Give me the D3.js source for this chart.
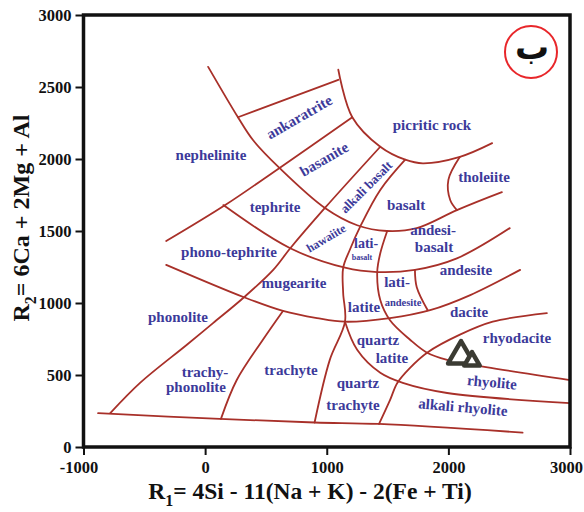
<!DOCTYPE html>
<html lang="en">
<head>
    <meta charset="UTF-8">
    <title>R1-R2 diagram</title>
    <script src="https://cdn.jsdelivr.net/npm/d3@7"></script>
    <style>
        body { margin: 0; background: #fff; }
    </style>
</head>
<body>
    <svg class="root"></svg>
<script>
    // boundary lines, in R1 / R2 units
    const bottomLine = [[-880, 235], [120, 195], [900, 170], [1430, 160], [2610, 100]];
    const lineA = [[-780, 235], [-535, 445], [-150, 710], [65, 860], [320, 1040], [560, 1230], [700, 1380], [985, 1660], [1440, 2085]];
    const lineB = [[25, 2640], [270, 2290], [395, 2130], [615, 1935], [985, 1660], [1250, 1540], [1495, 1500], [1740, 1520], [2070, 1645], [2440, 1770]];
    const picritic = [[1095, 2620], [1210, 2290], [1440, 2085], [1645, 1995], [1790, 1970], [2095, 2015], [2360, 2110]];
    const ankaratriteTop = [[270, 2290], [1095, 2550]];
    const lineD = [[-320, 1430], [165, 1680], [615, 1940], [1210, 2290]];
    const lineE = [[150, 1680], [700, 1380], [1150, 1245], [1415, 1215], [1725, 1230], [2070, 1310], [2505, 1520]];
    const lineF = [[-320, 1265], [320, 1040], [640, 945], [920, 895], [1150, 870], [1520, 895], [1850, 950], [2180, 1055], [2590, 1230]];
    const lineG = [[1430, 160], [1520, 325], [1580, 445], [1685, 550], [1825, 655], [2095, 780], [2365, 870], [2810, 930]];
    const lineH = [[1495, 1495], [1440, 1345], [1415, 1215], [1440, 1020], [1520, 880], [1685, 745], [1825, 655], [1990, 605], [2310, 555], [3000, 465]];
    const lineI = [[1645, 1995], [1440, 1785], [1275, 1530], [1190, 1370], [1135, 1245], [1135, 1070], [1150, 870], [1025, 605], [900, 170]];
    const lineJ = [[1725, 1230], [1740, 1110], [1830, 950]];
    const lineK = [[1150, 870], [1250, 675], [1440, 515], [1625, 445], [1990, 375], [3000, 305]];
    const lineL = [[640, 945], [475, 745], [260, 465], [130, 195]];
    const tholeiite = [[2095, 2015], [2000, 1855], [2015, 1715], [2070, 1645]];

    const boundaries = [bottomLine, lineA, lineB, picritic, ankaratriteTop, lineD, lineE,
                        lineF, lineG, lineH, lineI, lineJ, lineK, lineL, tholeiite];

    // field names and where they sit
    const labelText = ["ankaratrite", "nephelinite", "basanite", "picritic rock", "tholeiite",
        "alkali basalt", "basalt", "andesi-", "basalt", "tephrite", "phono-tephrite", "hawaiite",
        "lati-", "basalt", "mugearite", "phonolite", "latite", "lati-", "andesite", "andesite",
        "dacite", "rhyodacite", "quartz", "latite", "rhyolite", "alkali rhyolite", "quartz",
        "trachyte", "trachyte", "trachy-", "phonolite"];
    const labelR1 = [772, 48, 977, 1865, 2293, 1323, 1652, 1874, 1882, 575, 196, 994, 1323, 1290,
        731, -223, 1306, 1578, 1627, 2145, 2170, 2564, 1421, 1536, 2359, 2120, 1257, 1216, 706, -1, -75];
    const labelR2 = [2292, 2028, 2000, 2236, 1875, 1806, 1681, 1507, 1389, 1667, 1354, 1451, 1417, 1319,
        1139, 903, 972, 1146, 1007, 1229, 937, 757, 743, 618, 451, 278, 444, 292, 535, 521, 417];

    // sample points (plotted as triangles)
    const sampleR1 = [2104, 2194];
    const sampleR2 = [632, 597];

    const xTicks = [-1000, 0, 1000, 2000, 3000];
    const yTicks = [0, 500, 1000, 1500, 2000, 2500, 3000];

    const width = 584, height = 512;
    const serif = "'Liberation Serif', 'Times New Roman', serif";
    const lineColor = "#a83029";
    const textColor = "#3c3a9a";

    // per-label size and rotation (by index)
    const labelSize = {5: 13, 11: 12, 12: 14, 13: 8, 18: 10.5};
    const labelAngle = {0: -30, 2: -30, 5: -45, 11: -31, 24: 5, 25: 5};

    const x = d3.scaleLinear().domain([-1000, 3000]).range([83.5, 570]);
    const y = d3.scaleLinear().domain([0, 3000]).range([447, 15]);

    const svg = d3.select(".root")
        .attr("width", width)
        .attr("height", height)
        .style("font-family", serif);

    svg.append("rect")
        .attr("width", width)
        .attr("height", height)
        .attr("fill", "#fff");

    // boundaries
    const line = d3.line()
        .x(d => x(d[0]))
        .y(d => y(d[1]))
        .curve(d3.curveCatmullRom.alpha(0.5));

    svg.append("g")
        .selectAll("path")
        .data(boundaries)
        .join("path")
        .attr("d", line)
        .attr("fill", "none")
        .attr("stroke", lineColor)
        .attr("stroke-width", 1.8)
        .attr("stroke-linecap", "round");

    // field labels
    svg.append("g")
        .selectAll("text")
        .data(labelText)
        .join("text")
        .attr("transform", (d, i) => `translate(${x(labelR1[i])},${y(labelR2[i])}) rotate(${labelAngle[i] || 0})`)
        .attr("dy", "0.35em")
        .attr("text-anchor", "middle")
        .attr("font-weight", "bold")
        .attr("font-size", (d, i) => labelSize[i] || 15)
        .attr("fill", textColor)
        .text(d => d);

    // samples
    const sampleSize = [290, 105];
    svg.append("g")
        .selectAll("path")
        .data(sampleR1)
        .join("path")
        .attr("transform", (d, i) => `translate(${x(d)},${y(sampleR2[i])})`)
        .attr("d", (d, i) => d3.symbol(d3.symbolTriangle, sampleSize[i])())
        .attr("fill", "#fff")
        .attr("stroke", "#3b3b33")
        .attr("stroke-width", 4.5)
        .attr("stroke-linejoin", "round");

    // axes
    const xAxis = svg.append("g")
        .attr("transform", `translate(0,${y(0)})`)
        .call(d3.axisBottom(x).tickValues(xTicks).tickSize(8).tickPadding(6).tickFormat(d => String(d)));
    const yAxis = svg.append("g")
        .attr("transform", `translate(${x(-1000)},0)`)
        .call(d3.axisLeft(y).tickValues(yTicks).tickSize(8).tickPadding(4).tickFormat(d => String(d)));

    [xAxis, yAxis].forEach(g => {
        g.select(".domain").remove();
        g.selectAll(".tick line").attr("stroke", "#111").attr("stroke-width", 2);
        g.selectAll(".tick text")
            .attr("fill", "#111")
            .style("font-family", serif)
            .style("font-weight", "bold")
            .style("font-size", "16.5px");
    });
    // end labels sit a little left of their ticks
    xAxis.selectAll(".tick text").attr("dx", d => d === -1000 ? -5 : d === 3000 ? -4 : 0);

    // frame
    svg.append("rect")
        .attr("x", x(-1000))
        .attr("y", y(3000))
        .attr("width", x(3000) - x(-1000))
        .attr("height", y(0) - y(3000))
        .attr("fill", "none")
        .attr("stroke", "#111")
        .attr("stroke-width", 3.5);

    // axis titles
    const xt = svg.append("text")
        .attr("x", 310)
        .attr("y", 499)
        .attr("text-anchor", "middle")
        .attr("font-weight", "bold")
        .attr("font-size", 23.5)
        .attr("fill", "#111");
    xt.append("tspan").text("R");
    xt.append("tspan").attr("dy", 7).attr("font-size", 16).text("1");
    xt.append("tspan").attr("dy", -7).text("= 4Si - 11(Na + K) - 2(Fe + Ti)");

    const yt = svg.append("text")
        .attr("transform", `translate(29,218) rotate(-90)`)
        .attr("text-anchor", "middle")
        .attr("font-weight", "bold")
        .attr("font-size", 24)
        .attr("fill", "#111");
    yt.append("tspan").text("R");
    yt.append("tspan").attr("dy", 7).attr("font-size", 16).text("2");
    yt.append("tspan").attr("dy", -7).text("= 6Ca + 2Mg + Al");

    // panel mark
    svg.append("circle")
        .attr("cx", 531)
        .attr("cy", 52)
        .attr("r", 26)
        .attr("fill", "#fff")
        .attr("stroke", "#e8262a")
        .attr("stroke-width", 2);
    svg.append("text")
        .attr("x", 532)
        .attr("y", 52)
        .attr("dy", "0.2em")
        .attr("text-anchor", "middle")
        .attr("font-family", "'DejaVu Sans', 'Noto Sans', sans-serif")
        .attr("font-weight", "bold")
        .attr("font-size", 34)
        .attr("fill", "#111")
        .text("ب");
</script>
</body>
</html>
